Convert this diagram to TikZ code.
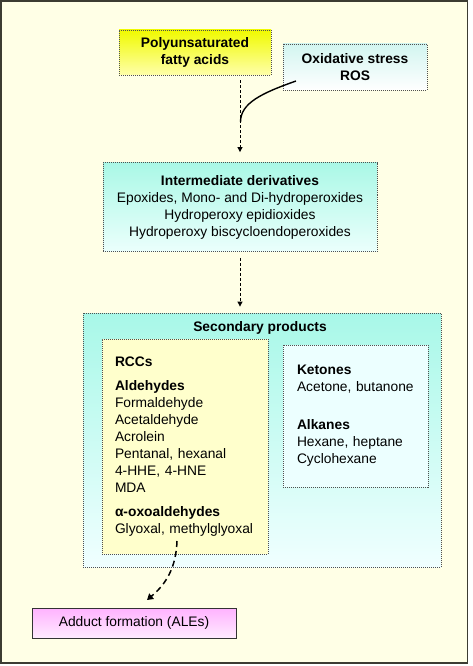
\documentclass[tikz,border=0pt]{standalone}
\usepackage{fontspec}
\setmainfont{Liberation Sans}
\usetikzlibrary{arrows.meta}
\definecolor{bgyellow}{RGB}{255,255,230}
\definecolor{framegray}{RGB}{60,60,50}
\definecolor{dotgray}{RGB}{80,80,80}
\definecolor{pufatop}{RGB}{240,250,0}
\definecolor{pufabot}{RGB}{255,255,170}
\definecolor{rostop}{RGB}{210,245,240}
\definecolor{rosbot}{RGB}{255,255,255}
\definecolor{cyantop}{RGB}{170,248,230}
\definecolor{cyanbot}{RGB}{235,255,252}
\definecolor{sectop}{RGB}{168,248,232}
\definecolor{secbot}{RGB}{240,255,255}
\definecolor{rccfill}{RGB}{255,255,204}
\definecolor{ketfill}{RGB}{236,255,255}
\definecolor{pinktop}{RGB}{255,178,255}
\definecolor{pinkbot}{RGB}{255,235,255}
\tikzset{
  dotbox/.style={draw=dotgray, line width=0.8pt, dash pattern=on 1pt off 1pt, inner sep=0pt},
  txt/.style={font=\fontsize{13.8}{17}\selectfont, inner sep=0pt},
  flowarrow/.style={draw=black, line width=0.8pt, dash pattern=on 3pt off 2pt, -{Triangle[width=5pt,length=5pt]}},
  curvearrow/.style={draw=black, line width=1.5pt, dash pattern=on 6pt off 4pt, -{Triangle[width=7pt,length=6pt]}},
}
\begin{document}
\begin{tikzpicture}[x=1pt,y=-1pt]
\useasboundingbox (0,0) rectangle (472,666);
\fill[white] (0,0) rectangle (472,666);
\draw[framegray, line width=1.6pt, fill=bgyellow] (1,1) rectangle (467.5,663);

% top boxes
\node[dotbox, top color=pufatop, bottom color=pufabot, minimum width=152pt, minimum height=45pt, txt, align=center]
  (pufa) at (195,52.5) {\bfseries Polyunsaturated\\\bfseries fatty acids};
\node[dotbox, top color=rostop, bottom color=rosbot, minimum width=144pt, minimum height=46pt, txt, align=center]
  (ros) at (355,67) {\bfseries Oxidative stress\\\bfseries ROS};

% intermediate
\node[dotbox, top color=cyantop, bottom color=cyanbot, minimum width=274pt, minimum height=89pt, txt, align=center]
  (inter) at (240,207) {\bfseries Intermediate derivatives\\Epoxides, Mono- and Di-hydroperoxides\\Hydroperoxy epidioxides\\Hydroperoxy biscycloendoperoxides};

% secondary
\node[dotbox, top color=sectop, bottom color=secbot, minimum width=358pt, minimum height=254pt] (sec) at (262,440) {};
\node[txt, font=\fontsize{13.8}{17}\selectfont\bfseries] (sectitle) at (260,328) {Secondary products};

\node[dotbox, fill=rccfill, minimum width=166pt, minimum height=215pt, txt, align=left, text width=140pt]
  (rcc) at (185,446.5) {\textbf{RCCs}\\[7pt]\textbf{Aldehydes}\\Formaldehyde\\Acetaldehyde\\Acrolein\\Pentanal, hexanal\\4-HHE, 4-HNE\\MDA\\[7pt]\textbf{α-oxoaldehydes}\\Glyoxal, methylglyoxal};

\node[dotbox, fill=ketfill, minimum width=145pt, minimum height=142pt, txt, align=left, text width=117pt]
  (ket) at (355.5,416) {\textbf{Ketones}\\Acetone, butanone\\[21pt]\textbf{Alkanes}\\Hexane, heptane\\Cyclohexane};

% adduct
\node[draw=black!80, line width=0.9pt, top color=pinktop, bottom color=pinkbot, minimum width=204pt, minimum height=30pt, txt]
  (adduct) at (134,623) {Adduct formation (ALEs)};

% connectors
\coordinate (rosend) at (296,81);
\coordinate (join) at (240.5,122);
\coordinate (rccout) at (177,541);
\coordinate (adductin) at (147,600);

\draw[flowarrow, shorten <=5pt, shorten >=10pt] (pufa.south -| inter.north) -- (inter.north);
\draw[black, line width=1.4pt] (rosend) .. controls (262,93) and (240.5,103) .. (join);
\draw[flowarrow, shorten <=6pt, shorten >=6pt] (inter.south) -- (inter.south |- sec.north);
\draw[curvearrow] (rccout) .. controls (176,568) and (166,584) .. (adductin);
\end{tikzpicture}
\end{document}
